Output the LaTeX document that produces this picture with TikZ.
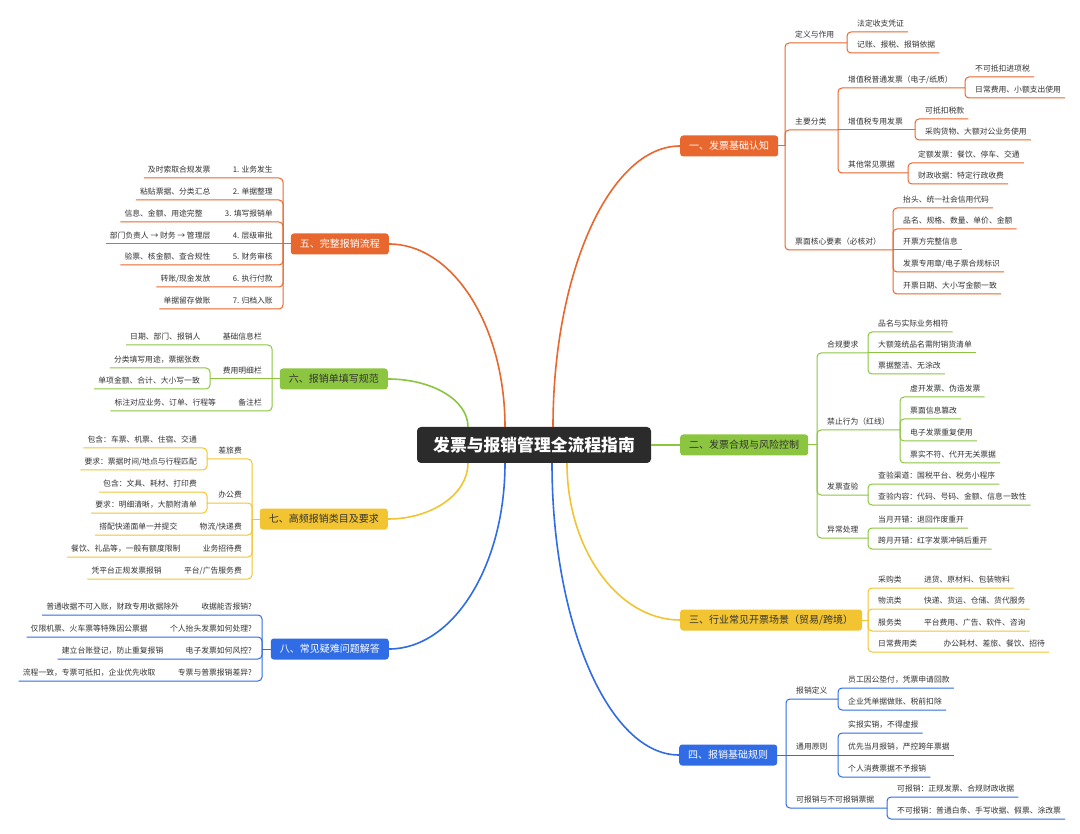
\documentclass[tikz,border=0pt]{standalone}
\usepackage{fontspec}
\setmainfont{Noto Sans CJK SC}
\usepackage{tikz}
\usetikzlibrary{positioning}

\definecolor{orangeC}{HTML}{E8672E}
\definecolor{greenC}{HTML}{8CC540}
\definecolor{yellowC}{HTML}{F2C431}
\definecolor{blueC}{HTML}{2F6CE5}
\definecolor{hubC}{HTML}{2B2B2B}
\definecolor{txt}{HTML}{333333}

\begin{document}
\begin{tikzpicture}[x=1pt, y=-1pt,
  hub/.style={fill=hubC, rounded corners=4pt, minimum width=234pt, minimum height=36pt, text=white, font=\fontsize{16.8}{20}\selectfont\bfseries},
  topic/.style={rounded corners=3pt, inner xsep=9pt, minimum height=21pt, font=\fontsize{10}{12}\selectfont},
  leaf/.style={inner xsep=4pt, inner ysep=1.5pt, text height=7pt, text depth=3.5pt, text=txt, font=\fontsize{7.8}{9}\selectfont},
  rl/.style={leaf, anchor=south west},
  ll/.style={leaf, anchor=south east},
  trunk/.style={draw=#1, line width=1.6pt},
  twig/.style={draw=#1, line width=1pt, rounded corners=4pt}]
\fill[white] (0,0) rectangle (1080,834);
\useasboundingbox (0,0) rectangle (1080,834);

% Centre
\node[hub] (hub) at (534,445) {发票与报销管理全流程指南};

% 一、发票基础认知
\node[topic, fill=orangeC, text=white, anchor=west] (b1) at (680,146) {一、发票基础认知};
\coordinate (j1) at (785,146);
\node[rl] (d1) at (791,43) {定义与作用};
\coordinate (d1j) at (847,43);
\node[rl] (d1a) at (853,32) {法定收支凭证};
\node[rl] (d1b) at (853,53) {记账、报税、报销依据};
\node[rl] (d2) at (791,130) {主要分类};
\coordinate (d2j) at (838,130);
\node[rl] (d2a) at (844,88) {增值税普通发票（电子/纸质）};
\coordinate (d2aj) at (965,88);
\node[rl] (d2a1) at (971,77) {不可抵扣进项税};
\node[rl] (d2a2) at (971,98) {日常费用、小额支出使用};
\node[rl] (d2b) at (844,130) {增值税专用发票};
\coordinate (d2bj) at (915,130);
\node[rl] (d2b1) at (921,119) {可抵扣税款};
\node[rl] (d2b2) at (921,140) {采购货物、大额对公业务使用};
\node[rl] (d2c) at (844,173) {其他常见票据};
\coordinate (d2cj) at (908,173);
\node[rl] (d2c1) at (914,163) {定额发票：餐饮、停车、交通};
\node[rl] (d2c2) at (914,184) {财政收据：特定行政收费};
\node[rl] (d3) at (791,250) {票面核心要素（必核对）};
\coordinate (d3j) at (893,250);
\node[rl] (d3a) at (899,208) {抬头、统一社会信用代码};
\node[rl] (d3b) at (899,229) {品名、规格、数量、单价、金额};
\node[rl] (d3c) at (899,250) {开票方完整信息};
\node[rl] (d3d) at (899,272) {发票专用章/电子票合规标识};
\node[rl] (d3e) at (899,294) {开票日期、大小写金额一致};
\draw[trunk=orangeC] ([xshift=19pt]hub.north) .. controls (553,272) and (610,146) .. (b1.west);
\draw[twig=orangeC] (b1.east) -- (j1);
\draw[twig=orangeC] (j1) |- (d1j);
\draw[twig=orangeC] (d1j) |- (d1a.south east);
\draw[twig=orangeC] (d1j) |- (d1b.south east);
\draw[twig=orangeC] (j1) |- (d2j);
\draw[twig=orangeC] (d2j) |- (d2aj);
\draw[twig=orangeC] (d2aj) |- (d2a1.south east);
\draw[twig=orangeC] (d2aj) |- (d2a2.south east);
\draw[twig=orangeC] (d2j) -- (d2bj);
\draw[twig=orangeC] (d2bj) |- (d2b1.south east);
\draw[twig=orangeC] (d2bj) |- (d2b2.south east);
\draw[twig=orangeC] (d2j) |- (d2cj);
\draw[twig=orangeC] (d2cj) |- (d2c1.south east);
\draw[twig=orangeC] (d2cj) |- (d2c2.south east);
\draw[twig=orangeC] (j1) |- (d3j);
\draw[twig=orangeC] (d3j) |- (d3a.south east);
\draw[twig=orangeC] (d3j) |- (d3b.south east);
\draw[twig=orangeC] (d3j) -- (d3c.south east);
\draw[twig=orangeC] (d3j) |- (d3d.south east);
\draw[twig=orangeC] (d3j) |- (d3e.south east);

% 二、发票合规与风险控制
\node[topic, fill=greenC, text=txt, anchor=west] (b2) at (680,445) {二、发票合规与风险控制};
\coordinate (j2) at (817,445);
\node[rl] (e1) at (823,353) {合规要求};
\coordinate (e1j) at (868,353);
\node[rl] (e1a) at (874,332) {品名与实际业务相符};
\node[rl] (e1b) at (874,353) {大额笼统品名需附销货清单};
\node[rl] (e1c) at (874,374) {票据整洁、无涂改};
\node[rl] (e2) at (823,430) {禁止行为（红线）};
\coordinate (e2j) at (900,430);
\node[rl] (e2a) at (906,397) {虚开发票、伪造发票};
\node[rl] (e2b) at (906,419) {票面信息篡改};
\node[rl] (e2c) at (906,441) {电子发票重复使用};
\node[rl] (e2d) at (906,463) {票实不符、代开无关票据};
\node[rl] (e3) at (823,495) {发票查验};
\coordinate (e3j) at (868,495);
\node[rl] (e3a) at (874,484) {查验渠道：国税平台、税务小程序};
\node[rl] (e3b) at (874,505) {查验内容：代码、号码、金额、信息一致性};
\node[rl] (e4) at (823,538) {异常处理};
\coordinate (e4j) at (868,538);
\node[rl] (e4a) at (874,528) {当月开错：退回作废重开};
\node[rl] (e4b) at (874,549) {跨月开错：红字发票冲销后重开};
\draw[trunk=greenC] (hub.east) -- (b2.west);
\draw[twig=greenC] (b2.east) -- (j2);
\draw[twig=greenC] (j2) |- (e1j);
\draw[twig=greenC] (e1j) |- (e1a.south east);
\draw[twig=greenC] (e1j) -- (e1b.south east);
\draw[twig=greenC] (e1j) |- (e1c.south east);
\draw[twig=greenC] (j2) |- (e2j);
\draw[twig=greenC] (e2j) |- (e2a.south east);
\draw[twig=greenC] (e2j) |- (e2b.south east);
\draw[twig=greenC] (e2j) |- (e2c.south east);
\draw[twig=greenC] (e2j) |- (e2d.south east);
\draw[twig=greenC] (j2) |- (e3j);
\draw[twig=greenC] (e3j) |- (e3a.south east);
\draw[twig=greenC] (e3j) |- (e3b.south east);
\draw[twig=greenC] (j2) |- (e4j);
\draw[twig=greenC] (e4j) |- (e4a.south east);
\draw[twig=greenC] (e4j) |- (e4b.south east);

% 三、行业常见开票场景
\node[topic, fill=yellowC, text=txt, anchor=west] (b3) at (680,620) {三、行业常见开票场景（贸易/跨境）};
\coordinate (j3) at (868,620);
\node[rl] (f1) at (874,588) {采购类};
\node[leaf, right=14pt of f1] (f1a) {进货、原材料、包装物料};
\node[rl] (f2) at (874,609) {物流类};
\node[leaf, right=14pt of f2] (f2a) {快递、货运、仓储、货代服务};
\node[rl] (f3) at (874,631) {服务类};
\node[leaf, right=14pt of f3] (f3a) {平台费用、广告、软件、咨询};
\node[rl] (f4) at (874,652) {日常费用类};
\node[leaf, right=18pt of f4] (f4a) {办公耗材、差旅、餐饮、招待};
\draw[trunk=yellowC] ([xshift=33pt]hub.south) .. controls (567,549) and (618,620) .. (b3.west);
\draw[twig=yellowC] (b3.east) -- (j3);
\draw[twig=yellowC] (j3) |- (f1a.south east);
\draw[twig=yellowC] (j3) |- (f2a.south east);
\draw[twig=yellowC] (j3) |- (f3a.south east);
\draw[twig=yellowC] (j3) |- (f4a.south east);

% 四、报销基础规则
\node[topic, fill=blueC, text=white, anchor=west] (b4) at (679,755) {四、报销基础规则};
\coordinate (j4) at (786,755);
\node[rl] (g1) at (792,699) {报销定义};
\coordinate (g1j) at (838,699);
\node[rl] (g1a) at (844,688) {员工因公垫付，凭票申请回款};
\node[rl] (g1b) at (844,710) {企业凭单据做账、税前扣除};
\node[rl] (g2) at (792,755) {通用原则};
\coordinate (g2j) at (838,755);
\node[rl] (g2a) at (844,733) {实报实销，不得虚报};
\node[rl] (g2b) at (844,755) {优先当月报销，严控跨年票据};
\node[rl] (g2c) at (844,777) {个人消费票据不予报销};
\node[rl] (g3) at (792,808) {可报销与不可报销票据};
\coordinate (g3j) at (887,808);
\node[rl] (g3a) at (893,797) {可报销：正规发票、合规财政收据};
\node[rl] (g3b) at (893,819) {不可报销：普通白条、手写收据、假票、涂改票};
\draw[trunk=blueC] ([xshift=18pt]hub.south) .. controls (552,624) and (609,755) .. (b4.west);
\draw[twig=blueC] (b4.east) -- (j4);
\draw[twig=blueC] (j4) |- (g1j);
\draw[twig=blueC] (g1j) |- (g1a.south east);
\draw[twig=blueC] (g1j) |- (g1b.south east);
\draw[twig=blueC] (j4) -- (g2j);
\draw[twig=blueC] (g2j) |- (g2a.south east);
\draw[twig=blueC] (g2j) -- (g2b.south east);
\draw[twig=blueC] (g2j) |- (g2c.south east);
\draw[twig=blueC] (j4) |- (g3j);
\draw[twig=blueC] (g3j) |- (g3a.south east);
\draw[twig=blueC] (g3j) |- (g3b.south east);

% 五、完整报销流程
\node[topic, fill=orangeC, text=white, anchor=east] (b5) at (389,244) {五、完整报销流程};
\coordinate (j5) at (283,244);
\node[ll] (h1) at (277,178) {1. 业务发生};
\node[leaf, left=14pt of h1] (h1a) {及时索取合规发票};
\node[ll] (h2) at (277,200) {2. 单据整理};
\node[leaf, left=14pt of h2] (h2a) {粘贴票据、分类汇总};
\node[ll] (h3) at (277,222) {3. 填写报销单};
\node[leaf, left=14pt of h3] (h3a) {信息、金额、用途完整};
\node[ll] (h4) at (277,244) {4. 层级审批};
\node[leaf, left=14pt of h4] (h4a) {部门负责人 → 财务 → 管理层};
\node[ll] (h5) at (277,265) {5. 财务审核};
\node[leaf, left=14pt of h5] (h5a) {验票、核金额、查合规性};
\node[ll] (h6) at (277,287) {6. 执行付款};
\node[leaf, left=14pt of h6] (h6a) {转账/现金发放};
\node[ll] (h7) at (277,309) {7. 归档入账};
\node[leaf, left=14pt of h7] (h7a) {单据留存做账};
\draw[trunk=orangeC] ([xshift=-29pt]hub.north) .. controls (505,326) and (453,244) .. (b5.east);
\draw[twig=orangeC] (b5.west) -- (j5);
\draw[twig=orangeC] (j5) |- (h1a.south west);
\draw[twig=orangeC] (j5) |- (h2a.south west);
\draw[twig=orangeC] (j5) |- (h3a.south west);
\draw[twig=orangeC] (j5) -- (h4a.south west);
\draw[twig=orangeC] (j5) |- (h5a.south west);
\draw[twig=orangeC] (j5) |- (h6a.south west);
\draw[twig=orangeC] (j5) |- (h7a.south west);

% 六、报销单填写规范
\node[topic, fill=greenC, text=txt, anchor=east] (b6) at (388,379) {六、报销单填写规范};
\coordinate (j6) at (272,379);
\node[ll] (k1) at (266,345) {基础信息栏};
\node[leaf, left=14pt of k1] (k1a) {日期、部门、报销人};
\node[ll] (k2) at (266,379) {费用明细栏};
\coordinate (k2j) at (210,379);
\node[ll] (k2a) at (204,368) {分类填写用途，票据张数};
\node[ll] (k2b) at (204,389) {单项金额、合计、大小写一致};
\node[ll] (k3) at (266,411) {备注栏};
\node[leaf, left=14pt of k3] (k3a) {标注对应业务、订单、行程等};
\draw[trunk=greenC] ([xshift=-66pt]hub.north) .. controls (468,400) and (432,379) .. (b6.east);
\draw[twig=greenC] (b6.west) -- (j6);
\draw[twig=greenC] (j6) |- (k1a.south west);
\draw[twig=greenC] (j6) -- (k2j);
\draw[twig=greenC] (k2j) |- (k2a.south west);
\draw[twig=greenC] (k2j) |- (k2b.south west);
\draw[twig=greenC] (j6) |- (k3a.south west);

% 七、高频报销类目及要求
\node[topic, fill=yellowC, text=txt, anchor=east] (b7) at (388,519) {七、高频报销类目及要求};
\coordinate (j7) at (252,519);
\node[ll] (m1) at (246,459) {差旅费};
\coordinate (m1j) at (207,459);
\node[ll] (m1a) at (201,448) {包含：车票、机票、住宿、交通};
\node[ll] (m1b) at (201,470) {要求：票据时间/地点与行程匹配};
\node[ll] (m2) at (246,503) {办公费};
\coordinate (m2j) at (207,503);
\node[ll] (m2a) at (201,492) {包含：文具、耗材、打印费};
\node[ll] (m2b) at (201,513) {要求：明细清晰，大额附清单};
\node[ll] (m3) at (246,535) {物流/快递费};
\node[leaf, left=14pt of m3] (m3a) {搭配快递面单一并提交};
\node[ll] (m4) at (246,557) {业务招待费};
\node[leaf, left=14pt of m4] (m4a) {餐饮、礼品等，一般有额度限制};
\node[ll] (m5) at (246,579) {平台/广告服务费};
\node[leaf, left=14pt of m5] (m5a) {凭平台正规发票报销};
\draw[trunk=yellowC] ([xshift=-66pt]hub.south) .. controls (468,494) and (432,519) .. (b7.east);
\draw[twig=yellowC] (b7.west) -- (j7);
\draw[twig=yellowC] (j7) |- (m1j);
\draw[twig=yellowC] (m1j) |- (m1a.south west);
\draw[twig=yellowC] (m1j) |- (m1b.south west);
\draw[twig=yellowC] (j7) |- (m2j);
\draw[twig=yellowC] (m2j) |- (m2a.south west);
\draw[twig=yellowC] (m2j) |- (m2b.south west);
\draw[twig=yellowC] (j7) |- (m3a.south west);
\draw[twig=yellowC] (j7) |- (m4a.south west);
\draw[twig=yellowC] (j7) |- (m5a.south west);

% 八、常见疑难问题解答
\node[topic, fill=blueC, text=white, anchor=east] (b8) at (389,649) {八、常见疑难问题解答};
\coordinate (j8) at (262,649);
\node[ll] (n1) at (256,615) {收据能否报销?};
\node[leaf, left=14pt of n1] (n1a) {普通收据不可入账，财政专用收据除外};
\node[ll] (n2) at (256,637) {个人抬头发票如何处理?};
\node[leaf, left=14pt of n2] (n2a) {仅限机票、火车票等特殊因公票据};
\node[ll] (n3) at (256,659) {电子发票如何风控?};
\node[leaf, left=14pt of n3] (n3a) {建立台账登记，防止重复报销};
\node[ll] (n4) at (256,681) {专票与普票报销差异?};
\node[leaf, left=14pt of n4] (n4a) {流程一致，专票可抵扣，企业优先收取};
\draw[trunk=blueC] ([xshift=-29pt]hub.south) .. controls (505,566) and (453,649) .. (b8.east);
\draw[twig=blueC] (b8.west) -- (j8);
\draw[twig=blueC] (j8) |- (n1a.south west);
\draw[twig=blueC] (j8) |- (n2a.south west);
\draw[twig=blueC] (j8) |- (n3a.south west);
\draw[twig=blueC] (j8) |- (n4a.south west);
\end{tikzpicture}
\end{document}
